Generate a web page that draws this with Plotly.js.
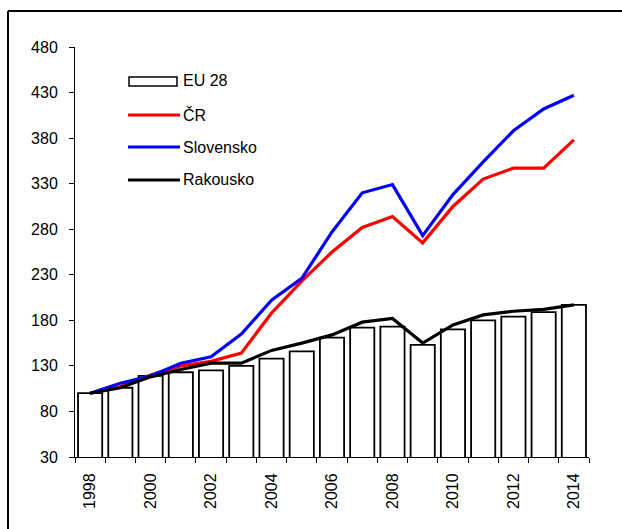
<!DOCTYPE html>
<html>
<head>
<meta charset="utf-8">
<script src="https://cdn.plot.ly/plotly-3.0.1.min.js"></script>
<style>html,body{margin:0;padding:0;background:#fff;}#chart{width:622px;height:529px;}</style>
</head>
<body>
<div id="chart"></div>
<script>
const years = [1998,1999,2000,2001,2002,2003,2004,2005,2006,2007,2008,2009,2010,2011,2012,2013,2014];
const eu28 = [100,106,119,123,125,130,138,146,161,172,173,153,170,180,184,189,197];
const cr = [100,107,120,130,135,144,188,223,255,282,294,265,305,335,347,347,378];
const sk = [100,111,119,133,140,165,202,226,277,320,329,273,318,354,388,412,427];
const at = [100,106,118,126,133,133,147,155,164,178,182,155,175,186,190,192,197];
const names = ['EU 28','ČR','Slovensko','Rakousko'];
const lineColors = ['#ff0000','#0000ff','#000000'];
const yTicks = [30,80,130,180,230,280,330,380,430,480];
const xTickLabels = [1998,2000,2002,2004,2006,2008,2010,2012,2014];

const W = 622, H = 529;
const L = 75, R = 33, T = 47, B = 72;
const pw = W - L - R, ph = H - T - B;
const px = x => (x - L) / pw;
const py = y => (H - B - y) / ph;

const font = {family: 'Liberation Sans, Arial, sans-serif', size: 16, color: '#000'};

const traces = [
  {type:'bar', x: years, y: eu28, name: names[0], marker:{color:'#ffffff', line:{color:'#000', width:1.8}}, showlegend:false},
  {type:'scatter', mode:'lines', x: years, y: cr, name: names[1], line:{color:lineColors[0], width:3.2}, showlegend:false},
  {type:'scatter', mode:'lines', x: years, y: sk, name: names[2], line:{color:lineColors[1], width:3.2}, showlegend:false},
  {type:'scatter', mode:'lines', x: years, y: at, name: names[3], line:{color:lineColors[2], width:3.2}, showlegend:false}
];

const bounds = [];
for (let i = 0; i <= years.length; i++) bounds.push(years[0] - 0.5 + i);

const shapes = [
  {type:'line', xref:'paper', yref:'paper', x0: px(8), x1: px(8), y0: py(11), y1: py(540), line:{color:'#000', width:2}},
  {type:'line', xref:'paper', yref:'paper', x0: px(8), x1: px(640), y0: py(11), y1: py(11), line:{color:'#000', width:2}},
  {type:'rect', xref:'paper', yref:'paper', x0: px(129), x1: px(177), y0: py(77), y1: py(86), line:{color:'#000', width:1.5}, fillcolor:'#fff'}
];
const legY = [81, 115, 147, 180];
for (let i = 0; i < 3; i++) {
  shapes.push({type:'line', xref:'paper', yref:'paper', x0: px(128), x1: px(180), y0: py(legY[i+1]), y1: py(legY[i+1]), line:{color: lineColors[i], width:3.2}});
}
const annotations = names.map((n, i) => ({
  xref:'paper', yref:'paper', x: px(181), y: py(legY[i]), xanchor:'left', yanchor:'middle',
  text: n, showarrow:false, font: font
}));

const layout = {
  width: W, height: H,
  margin: {l: L, r: R, t: T, b: B, pad: 0},
  paper_bgcolor:'#fff', plot_bgcolor:'#fff',
  font: font,
  bargap: 0.2,
  showlegend: false,
  xaxis: {
    range: [years[0]-0.5, years[years.length-1]+0.5],
    tickmode:'array', tickvals: xTickLabels, ticktext: xTickLabels.map(String),
    ticks:'', tickangle: -90, ticklabelstandoff: 9,
    showgrid:false, zeroline:false, showline:true, linecolor:'#000', linewidth:1,
    minor: {tickmode:'array', tickvals: bounds, ticks:'outside', ticklen:5, tickcolor:'#000', tickwidth:1, showgrid:false},
    tickfont: font, fixedrange:true
  },
  yaxis: {
    range: [30, 480],
    tickmode:'array', tickvals: yTicks,
    ticks:'outside', ticklen:5, tickcolor:'#000', tickwidth:1, ticklabelstandoff: 8,
    showgrid:false, zeroline:false, showline:true, linecolor:'#000', linewidth:1,
    tickfont: font, fixedrange:true
  },
  shapes: shapes,
  annotations: annotations
};

Plotly.newPlot('chart', traces, layout, {staticPlot:true, displayModeBar:false});
</script>
</body>
</html>
